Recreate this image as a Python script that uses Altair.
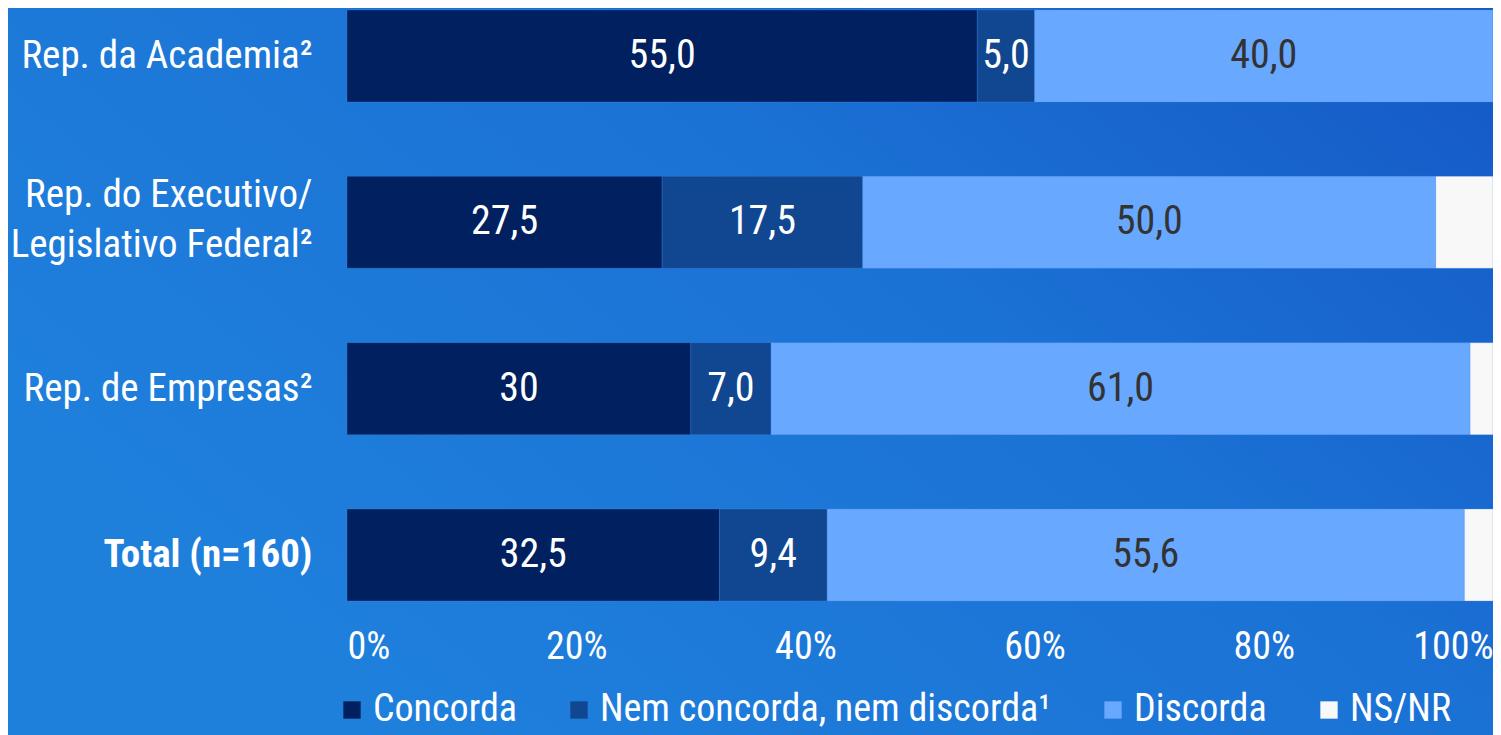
import altair as alt
import pandas as pd

categories = ["Rep. da Academia²", "Rep. do Executivo/|Legislativo Federal²", "Rep. de Empresas²", "Total (n=160)"]
series = ["Concorda", "Nem concorda, nem discorda¹", "Discorda", "NS/NR"]
concorda = [55.0, 27.5, 30.0, 32.5]
nem = [5.0, 17.5, 7.0, 9.4]
discorda = [40.0, 50.0, 61.0, 55.6]
nsnr = [0.0, 5.0, 2.0, 2.5]
lab_concorda = ["55,0", "27,5", "30", "32,5"]
lab_nem = ["5,0", "17,5", "7,0", "9,4"]
lab_discorda = ["40,0", "50,0", "61,0", "55,6"]
lab_nsnr = ["", "", "", ""]
ticks = [0, 20, 40, 60, 80, 100]
colors = ["#00205F", "#114690", "#68A8FF", "#F8F8F8"]

rows = []
for vals, labs, s_i in [(concorda, lab_concorda, 0), (nem, lab_nem, 1), (discorda, lab_discorda, 2), (nsnr, lab_nsnr, 3)]:
    for c, v, l in zip(categories, vals, labs):
        rows.append({"category": c, "series": series[s_i], "order": s_i, "value": v, "label": l})
df = pd.DataFrame(rows)

FONT = "Liberation Sans Narrow, Arial Narrow, Roboto Condensed, Liberation Sans, sans-serif"
W, H = 1146, 595

bg = alt.Chart(pd.DataFrame({"bg": [0]})).mark_rect(
    color=alt.Gradient(
        gradient="linear",
        stops=[alt.GradientStop(offset=0, color="#1F80DC"),
               alt.GradientStop(offset=0.55, color="#1B72D5"),
               alt.GradientStop(offset=1, color="#1558C6")],
        x1=0, x2=1, y1=0.6, y2=0,
    )
).encode(x=alt.value(-339), x2=alt.value(W), y=alt.value(0), y2=alt.value(727))

base = alt.Chart(df).transform_stack(
    stack="value", groupby=["category"], sort=[alt.SortField("order")], as_=["x0", "x1"]
).transform_calculate(mid="(datum.x0 + datum.x1) / 2")

yenc = alt.Y("category:N", sort=categories, title=None,
             scale=alt.Scale(paddingInner=0.447, paddingOuter=0.012),
             axis=alt.Axis(labelExpr="split(datum.label, '|')", labelFontSize=39, labelColor="white",
                           labelPadding=35, labelLimit=500, labelLineHeight=50, domain=False, ticks=False,
                           zindex=2,
                           labelOffset={"condition": {"test": "indexof(datum.value, '|') >= 0", "value": -27}, "value": 0},
                           labelFontWeight={"condition": {"test": "datum.value == 'Total (n=160)'", "value": "bold"}, "value": "normal"}))

bars = base.mark_bar(stroke="#4A90E8", strokeWidth=0.6, strokeOpacity=0.5).encode(
    y=yenc,
    x=alt.X("x0:Q", scale=alt.Scale(domain=[0, 100], nice=False), title=None,
            axis=alt.Axis(values=ticks, labelExpr="datum.value + '%'", labelFlush=True, labelFontSize=38,
                          labelColor="white", labelPadding=25, domain=False, ticks=False, grid=False,
                          zindex=2)),
    x2="x1:Q",
    color=alt.Color("series:N", sort=series, scale=alt.Scale(domain=series, range=colors),
                    legend=alt.Legend(title=None, orient="none", legendX=-14, legendY=683, direction="horizontal",
                                      columns=4, columnPadding=43, symbolType="square", symbolSize=300,
                                      symbolStrokeWidth=0, symbolOpacity=1, labelFontSize=38, labelColor="white",
                                      labelOffset=2, labelLimit=700)),
)

texts = base.mark_text(fontSize=40, fontWeight="normal", baseline="middle", align="center").encode(
    y=alt.Y("category:N", sort=categories),
    x=alt.X("mid:Q"),
    text="label:N",
    color=alt.condition(alt.datum.series == "Discorda", alt.value("#333333"), alt.value("white")),
)

chart = alt.layer(bg, bars, texts).properties(
    width=W, height=H,
    autosize=alt.AutoSizeParams(type="none"),
    padding={"left": 339, "top": 0, "right": 0, "bottom": 727 - H},
    background="#1F80DC",
).configure(font=FONT).configure_view(strokeWidth=0).configure_axis(grid=False)

chart.save("out.html", embed_options={"renderer": "svg", "actions": False})
